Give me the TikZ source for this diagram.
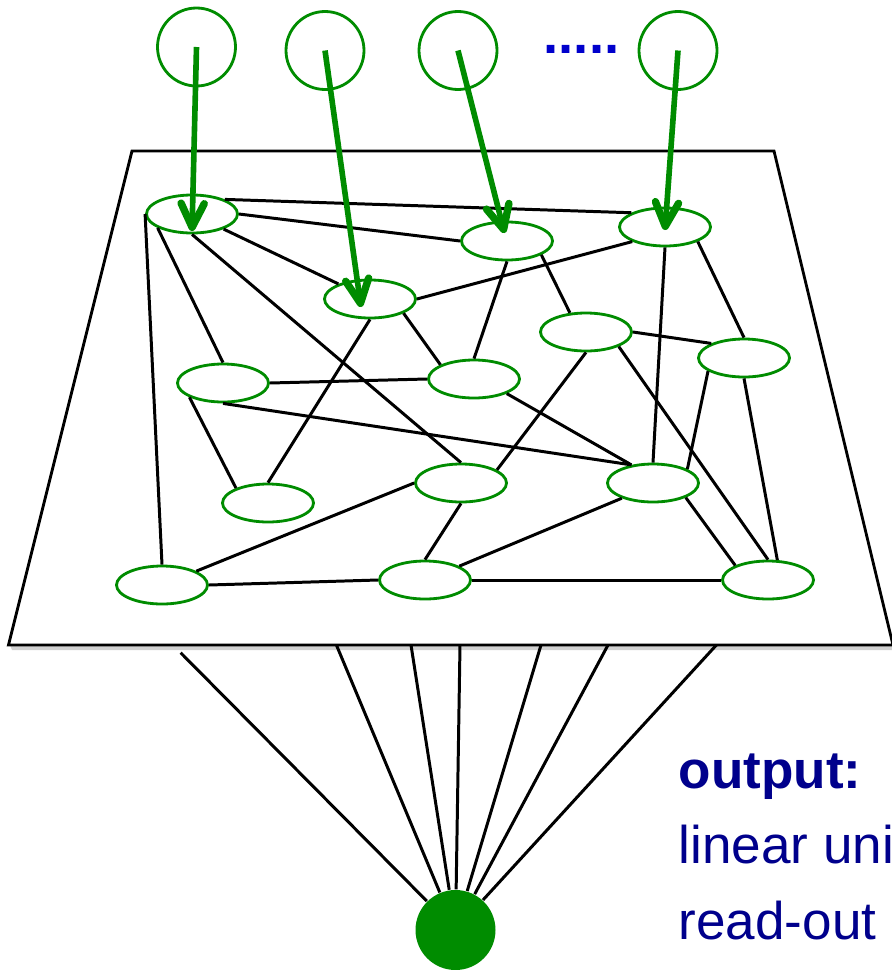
\documentclass[tikz,border=0pt]{standalone}
\usepackage{fontspec}
\setmainfont{Liberation Sans}
\usetikzlibrary{shapes.geometric,arrows.meta}
\definecolor{nodegreen}{RGB}{0,140,0}
\definecolor{textblue}{RGB}{0,0,140}
\definecolor{dotblue}{RGB}{0,0,204}
\begin{document}
\begin{tikzpicture}[
  unit/.style={ellipse,draw=nodegreen,line width=0.8pt,fill=white,minimum width=0.91cm,minimum height=0.38cm,inner sep=0pt},
  inp/.style={circle,draw=nodegreen,line width=0.8pt,minimum size=0.78cm,inner sep=0pt},
  conn/.style={line width=0.85pt},
  feed/.style={draw=nodegreen,line width=1.6pt,-{Straight Barb[length=6.8pt,width=6.6pt,line width=2.1pt,round]}},
  lbl/.style={anchor=base west,inner sep=0pt,text=textblue,font=\fontsize{15.1pt}{18pt}\selectfont}]
\useasboundingbox (0,0) rectangle (8.91,-9.70);
\fill[black!18] (0.10,-6.45) -- (8.93,-6.45) -- (8.95,-6.50) -- (0.12,-6.50) -- cycle;
\draw[line width=0.8pt,fill=white] (1.32,-1.51) -- (7.74,-1.51) -- (8.93,-6.45) -- (0.085,-6.45) -- cycle;
\node[inp] (in1) at (1.965,-0.47) {};
\node[inp] (in2) at (3.25,-0.505) {};
\node[inp] (in3) at (4.58,-0.505) {};
\node[inp] (in4) at (6.78,-0.505) {};
\node[anchor=base west,inner sep=0pt,text=dotblue,font=\bfseries\fontsize{15.5pt}{18pt}\selectfont] (dots) at (5.43,-0.53) {.....};
\node[unit] (r1) at (1.92,-2.14) {};
\node[unit] (r2) at (5.07,-2.41) {};
\node[unit] (r3) at (6.65,-2.27) {};
\node[unit] (r4) at (3.70,-2.99) {};
\node[unit] (r5) at (5.86,-3.32) {};
\node[unit] (r6) at (7.44,-3.58) {};
\node[unit] (r7) at (2.23,-3.83) {};
\node[unit] (r8) at (4.74,-3.79) {};
\node[unit] (r9) at (2.68,-5.03) {};
\node[unit] (r10) at (4.61,-4.83) {};
\node[unit] (r11) at (6.53,-4.83) {};
\node[unit] (r12) at (1.62,-5.85) {};
\node[unit] (r13) at (4.25,-5.80) {};
\node[unit] (r14) at (7.68,-5.80) {};
\draw[conn] (r1.24) -- (r3.157);
\draw[conn] (r1.east) -- (r2.west);
\draw[conn] (r1) -- (r4);
\draw[conn] (r1.south) -- (r10.north);
\draw[conn] (r1.202) -- (r7.north);
\draw[conn] (r1.west) -- (r12.north);
\draw[conn] (r4.east) -- (r3.204);
\draw[conn] (r4.south) -- (r9.north);
\draw[conn] (r4.-23) -- (r8.157);
\draw[conn] (r2.south) -- (r8.north);
\draw[conn] (r2.-22) -- (r5.130);
\draw[conn] (r3.south) -- (r11.north);
\draw[conn] (r3.-24) -- (r6.north);
\draw[conn] (r5.east) -- (r6.156);
\draw[conn] (r5.south) -- (r10.20);
\draw[conn] (r5.-24) -- (r14.north);
\draw[conn] (r6.200) -- (r11.22);
\draw[conn] (r6.south) -- (r14.65);
\draw[conn] (r7.east) -- (r8.west);
\draw[conn] (r7.203) -- (r9.155);
\draw[conn] (r7.south) -- (r11.140);
\draw[conn] (r8.-24) -- (r11.140);
\draw[conn] (r10.west) -- (r12.22);
\draw[conn] (r10.south) -- (r13.north);
\draw[conn] (r11.206) -- (r13.22);
\draw[conn] (r11.-24) -- (r14.156);
\draw[conn] (r12.east) -- (r13.west);
\draw[conn] (r13.east) -- (r14.west);
\coordinate (t1) at ([yshift=-0.17cm]r1.center);
\coordinate (t2) at ([shift={(-0.09,-0.08)}]r4.center);
\coordinate (t3) at ([shift={(-0.025,0.08)}]r2.center);
\coordinate (t4) at ([yshift=-0.03cm]r3.center);
\draw[feed] (in1.center) -- (t1);
\draw[feed] (in2.center) -- (t2);
\draw[feed] (in3.center) -- (t3);
\draw[feed] (in4.center) -- (t4);
\node[circle,fill=nodegreen,minimum size=0.80cm,inner sep=0pt] (out) at (4.555,-9.30) {};
\coordinate (p1) at (1.806,-6.527);
\coordinate (p2) at (3.364,-6.45);
\coordinate (p3) at (4.11,-6.45);
\coordinate (p4) at (4.60,-6.45);
\coordinate (p5) at (5.41,-6.45);
\coordinate (p6) at (6.08,-6.45);
\coordinate (p7) at (7.164,-6.45);
\foreach \i in {1,...,7} \draw[conn] (p\i) -- (out);
\node[lbl] (outhead) at (6.78,-7.88) {\bfseries output:};
\node[lbl] (outline1) at (6.78,-8.63) {linear uni};
\node[lbl] (outline2) at (6.78,-9.39) {read-out};
\end{tikzpicture}
\end{document}
